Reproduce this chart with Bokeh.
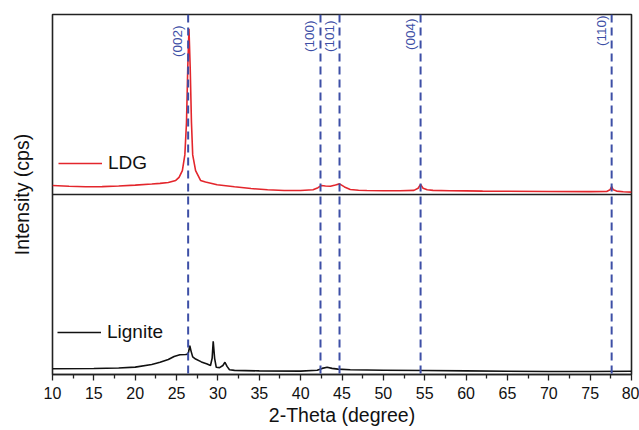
import math
from bokeh.plotting import figure
from bokeh.models import (Range1d, LinearAxis, FixedTicker, Span, Label,
                          Legend, LegendItem)
from bokeh.embed import file_html
from bokeh.resources import INLINE

# ---------------- data ----------------
ldg_x = [10, 12, 14, 16, 18, 20, 22, 23, 24, 24.9, 25.3, 25.7, 26.0, 26.2, 26.35,
         26.5, 26.65, 26.8, 26.95, 27.3, 27.9, 28.5, 29.9, 32, 34, 36, 38, 40,
         41.5, 42.1, 42.5, 43.0, 43.6, 44.2, 44.7, 45.3, 46.0, 47, 48, 50, 52,
         53.7, 54.2, 54.5, 54.8, 55.3, 56, 58, 60, 62, 65, 70, 75, 77.0, 77.4,
         77.6, 77.8, 78.2, 79, 80]
ldg_y = [5.0, 4.6, 4.3, 4.4, 4.7, 5.2, 5.8, 6.2, 6.7, 7.8, 9.5, 13.3, 22, 40, 70,
         92, 70, 40, 22, 13.3, 7.8, 6.9, 5.4, 4.3, 3.3, 2.6, 2.2, 2.2,
         2.6, 3.8, 5.0, 4.7, 4.6, 5.3, 5.9, 4.2, 2.8, 2.4, 2.2, 2.1, 2.1,
         2.3, 3.5, 5.6, 3.5, 2.6, 2.3, 2.1, 2.0, 1.9, 1.8, 1.7, 1.6, 1.7, 2.6,
         4.4, 2.6, 1.9, 1.5, 1.3]

lig_x = [10, 15, 18, 20, 22, 23, 24, 24.7, 25.4, 26.1, 26.35, 26.45, 26.6, 26.75,
         26.95, 27.3, 28.0, 28.7, 29.1, 29.3, 29.43, 29.6, 29.8, 30.2, 30.6, 30.85,
         31.1, 31.4, 32, 35, 40, 42, 42.6, 43.2, 43.8, 44.5, 46, 50, 55, 60, 65,
         70, 75, 80]
lig_y = [3.2, 3.3, 3.6, 4.1, 5.6, 6.8, 8.3, 10.0, 11.0, 11.1, 11.3, 12.5, 16, 13,
         9.8, 8.6, 7.0, 5.8, 5.0, 9, 18.5, 9, 4.0, 3.8, 5.0, 6.8,
         4.5, 2.6, 2.3, 2.0, 1.9, 2.4, 3.4, 4.0, 3.4, 3.0, 2.6, 2.4, 2.2, 2.0, 1.8,
         1.7, 1.7, 1.8]

peak_pos = [26.4, 42.4, 44.7, 54.5, 77.6]
peak_labels = ["(002)", "(100)", "(101)", "(004)", "(110)"]
peak_label_drop = [11, 6, 6, 4, 1]   # px below the top of the frame

x_ticks = [10, 15, 20, 25, 30, 35, 40, 45, 50, 55, 60, 65, 70, 75, 80]
x_minor = [12.5, 17.5, 22.5, 27.5, 32.5, 37.5, 42.5, 47.5, 52.5, 57.5,
           62.5, 67.5, 72.5, 77.5]

FONT = "Liberation Sans"
BLUE = "#3d4fa6"
RED = "#e3262c"
BLACK = "#111111"

p = figure(width=639, height=430, output_backend="svg", toolbar_location=None,
           x_range=Range1d(10, 80), y_range=Range1d(0, 200),
           min_border_left=52, min_border_right=8, min_border_top=14,
           min_border_bottom=56, x_axis_location=None, y_axis_location=None)
p.extra_y_ranges = {"ldg": Range1d(-100, 100)}
p.xgrid.visible = False
p.ygrid.visible = False
p.outline_line_color = "#222222"
p.outline_line_width = 1.6
p.background_fill_color = "white"
p.border_fill_color = "white"

# x axis
xa = LinearAxis(ticker=FixedTicker(ticks=x_ticks, minor_ticks=x_minor),
                axis_label="2-Theta (degree)")
xa.axis_line_color = "#222222"
xa.axis_line_width = 1.6
xa.major_tick_in = 0
xa.major_tick_out = 6
xa.minor_tick_in = 0
xa.minor_tick_out = 4
xa.major_tick_line_color = "#222222"
xa.minor_tick_line_color = "#222222"
xa.major_tick_line_width = 1.3
xa.minor_tick_line_width = 1.3
xa.major_label_text_font = FONT
xa.major_label_text_font_size = "16px"
xa.major_label_text_color = BLACK
xa.major_label_standoff = 6
xa.axis_label_text_font = FONT
xa.axis_label_text_font_size = "19.5px"
xa.axis_label_text_font_style = "normal"
xa.axis_label_text_color = BLACK
xa.axis_label_standoff = 2
p.add_layout(xa, "below")

# y axis (label only)
ya = LinearAxis(ticker=FixedTicker(ticks=[]), axis_label="Intensity (cps)")
ya.axis_line_color = None
ya.major_tick_line_color = None
ya.minor_tick_line_color = None
ya.axis_label_text_font = FONT
ya.axis_label_text_font_size = "19.5px"
ya.axis_label_text_font_style = "normal"
ya.axis_label_text_color = BLACK
ya.axis_label_standoff = 20
p.add_layout(ya, "left")

# panel divider
p.add_layout(Span(location=100, dimension="width", line_color="#222222",
                  line_width=1.6))

# reflection lines and labels
for xp, lab, drop in zip(peak_pos, peak_labels, peak_label_drop):
    p.add_layout(Span(location=xp, dimension="height", line_color=BLUE,
                      line_width=2, line_dash="8 5"))
    p.add_layout(Label(x=xp, y=200, x_offset=-3, y_offset=-drop, text=lab,
                       angle=math.pi / 2, text_align="right",
                       text_baseline="bottom", text_font=FONT,
                       text_font_size="13.5px", text_color=BLUE))

r_ldg = p.line(ldg_x, ldg_y, y_range_name="ldg", line_color=RED, line_width=1.6)
r_lig = p.line(lig_x, lig_y, line_color=BLACK, line_width=1.6)

for rend, name, loc in [(r_ldg, "LDG", (6, 200)), (r_lig, "Lignite", (5, 31))]:
    lg = Legend(items=[LegendItem(label=name, renderers=[rend])], location=loc,
                border_line_color=None, background_fill_alpha=0,
                padding=0, margin=0, spacing=0, glyph_width=44,
                glyph_height=20, label_standoff=6, label_height=20,
                label_text_font=FONT, label_text_font_size="19px",
                label_text_color=BLACK)
    p.add_layout(lg, "center")

open("out.html", "w").write(file_html(p, INLINE))
